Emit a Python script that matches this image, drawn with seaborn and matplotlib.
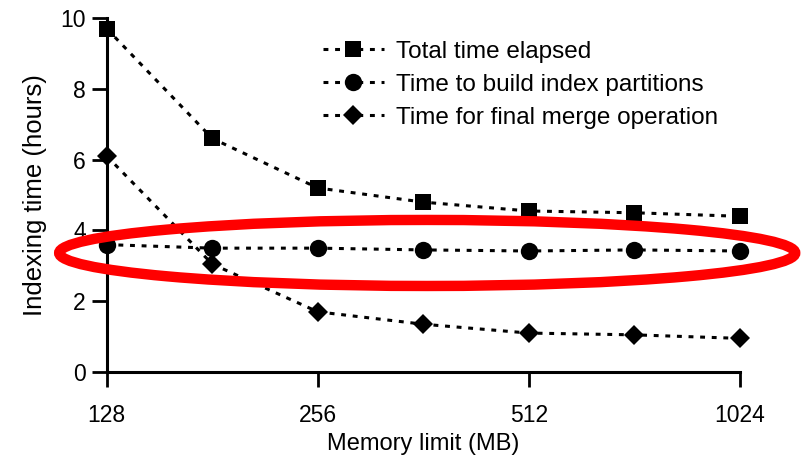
import numpy as np
import pandas as pd
import matplotlib
matplotlib.use("Agg")
import matplotlib.pyplot as plt
import seaborn as sns
from matplotlib.patches import Ellipse

# memory limits (MB), half-steps on a log2 axis
memory = [128, 181, 256, 362, 512, 724, 1024]
total_time = [9.7, 6.6, 5.2, 4.8, 4.55, 4.5, 4.4]
build_time = [3.6, 3.5, 3.5, 3.45, 3.42, 3.45, 3.42]
merge_time = [6.1, 3.05, 1.7, 1.35, 1.1, 1.05, 0.95]
series_names = ["Total time elapsed", "Time to build index partitions",
                "Time for final merge operation"]
x_ticks = [128, 256, 512, 1024]

sns.set_theme(style="ticks")
plt.rcParams['font.family'] = ['Liberation Sans', 'DejaVu Sans']
plt.rcParams['text.color'] = 'black'
plt.rcParams['axes.labelcolor'] = 'black'

fig = plt.figure(figsize=(8.03, 4.65), dpi=100)
ax = fig.add_axes([0.133, 0.2, 0.7885, 0.761])

markers = ["s", "o", "D"]
sizes = [11.5, 12.5, 10]
for vals, name, mk, ms in zip([total_time, build_time, merge_time], series_names, markers, sizes):
    df = pd.DataFrame({"memory": memory, "hours": vals})
    sns.lineplot(data=df, x="memory", y="hours", ax=ax, color="black",
                 marker=mk, markersize=ms, markeredgewidth=0, linewidth=2.2,
                 linestyle=(0, (1.6, 2.2)), label=name, clip_on=False)

ax.set_xscale("log", base=2)
ax.set_xlim(128, 1024)
ax.set_ylim(0, 10)
ax.set_xticks(x_ticks)
ax.set_xticklabels([str(t) for t in x_ticks])
ax.minorticks_off()
ax.set_yticks([0, 2, 4, 6, 8, 10])
ax.tick_params(axis="both", labelsize=16.5, length=11, width=2, color="black",
               labelcolor="black")
ax.tick_params(axis="x", pad=12)
ax.tick_params(axis="y", pad=4)
for s in ["left", "bottom"]:
    ax.spines[s].set_linewidth(2.2)
    ax.spines[s].set_color("black")
sns.despine(ax=ax)

ax.set_xlabel("Memory limit (MB)", fontsize=17, labelpad=4)
ax.set_ylabel("Indexing time (hours)", fontsize=18.5, labelpad=10)

leg = ax.legend(loc="upper left", bbox_to_anchor=(0.402, 0.912), bbox_transform=fig.transFigure,
                frameon=False, fontsize=17.5, handlelength=2.5, handletextpad=0.5,
                labelspacing=0.45, borderaxespad=0, borderpad=0)

# red highlight around the build-time series
fig.patches.append(Ellipse((0.532, 0.456), 0.9166, 0.142, transform=fig.transFigure,
                           fill=False, edgecolor="#ff0000", linewidth=7.5, zorder=10))

fig.savefig("out.png", dpi=100)
